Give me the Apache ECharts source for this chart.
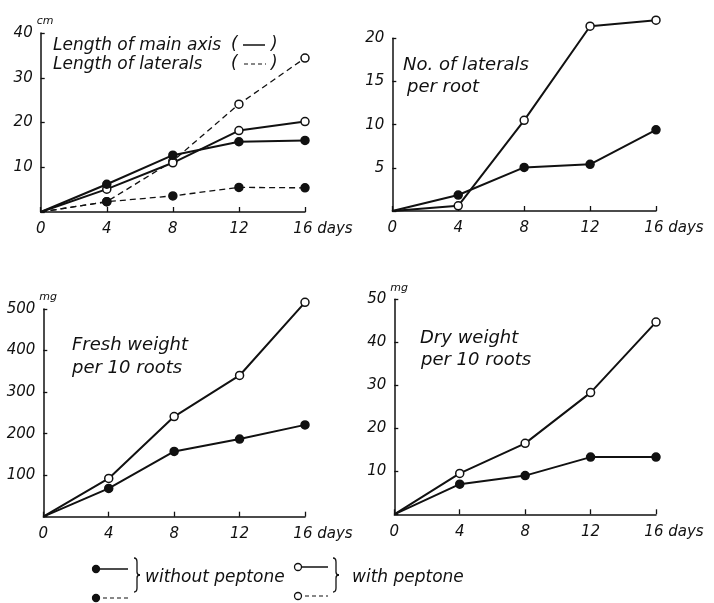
<!DOCTYPE html>
<html>
<head>
<meta charset="utf-8">
<script src="https://cdn.jsdelivr.net/npm/echarts@6/dist/echarts.min.js"></script>
<style>
  html, body { margin: 0; padding: 0; background: #fff; }
  #chart { width: 714px; height: 603px; }
</style>
</head>
<body>
<div id="chart"></div>
<script>
const days = [0, 4, 8, 12, 16]

// panel 1: lengths (cm)
const mainAxisWithout = [0, 6.2, 12.7, 15.7, 16]
const mainAxisWith = [0, 5.1, 11, 18.2, 20.2]
const lateralLenWithout = [0, 2.3, 3.6, 5.5, 5.4]
const lateralLenWith = [0, 2.3, 11.4, 24.1, 34.4]
// panel 2: number of laterals per root
const lateralNoWithout = [0, 1.85, 5.05, 5.4, 9.4]
const lateralNoWith = [0, 0.6, 10.5, 21.4, 22.1]
// panel 3: fresh weight per 10 roots (mg)
const freshWithout = [0, 68, 157, 187, 221]
const freshWith = [0, 92, 241, 340, 516]
// panel 4: dry weight per 10 roots (mg)
const dryWithout = [0, 7, 9, 13.3, 13.3]
const dryWith = [0, 9.5, 16.5, 28.3, 44.7]

const yMax = [40, 20, 500, 50]
const yStep = [10, 5, 100, 10]
const yUnit = ['cm', '', 'mg', 'mg']

const FONT = 'DejaVu Sans'
const INK = '#111'

const chart = echarts.init(document.getElementById('chart'))

const grids = [
  { left: 40.7, top: 33, width: 264.3, height: 179 },
  { left: 392.3, top: 38.3, width: 263.7, height: 172.7 },
  { left: 43.3, top: 309, width: 261.7, height: 207.7 },
  { left: 394.3, top: 299.3, width: 261.7, height: 215 },
]

const labelStyle = {
  color: INK, fontFamily: FONT, fontStyle: 'italic', fontSize: 15,
}

const xAxes = grids.map((g, i) => ({
  type: 'value', gridIndex: i, min: 0, max: 16, interval: 4,
  splitLine: { show: false },
  axisLine: { lineStyle: { color: INK, width: 1.5 } },
  axisTick: { inside: true, length: 5, lineStyle: { color: INK, width: 1.3 } },
  axisLabel: {
    ...labelStyle, margin: 10, showMinLabel: true, showMaxLabel: true,
    formatter: v => v === 16 ? '{p|}16 days' : String(v),
    rich: { p: { width: 36 } },
  },
}))

const yAxes = grids.map((g, i) => ({
  type: 'value', gridIndex: i, min: 0, max: yMax[i], interval: yStep[i],
  name: yUnit[i], nameLocation: 'end', nameGap: 6,
  nameTextStyle: { color: INK, fontFamily: FONT, fontStyle: 'italic', fontSize: 11, align: 'left', padding: [0, 0, 0, -4] },
  splitLine: { show: false },
  axisLine: { lineStyle: { color: INK, width: 1.5 } },
  axisTick: { inside: true, length: 4, lineStyle: { color: INK, width: 1.3 } },
  axisLabel: { ...labelStyle, margin: 8, formatter: v => v === 0 ? '' : String(v) },
}))

function line(idx, values, open, dashed) {
  return {
    type: 'line', xAxisIndex: idx, yAxisIndex: idx, clip: false,
    symbol: 'circle', symbolSize: 8,
    data: days.map((d, i) => i === 0 ? { value: [d, values[i]], symbol: 'none' } : [d, values[i]]),
    lineStyle: { color: INK, width: dashed ? 1.3 : 2, type: dashed ? [6, 4] : 'solid' },
    itemStyle: { color: open ? '#fff' : INK, borderColor: INK, borderWidth: 1.5 },
    z: open ? 2 : 3,
    animation: false,
  }
}

const series = [
  line(0, lateralLenWith, true, true),
  line(0, mainAxisWith, true, false),
  line(0, lateralLenWithout, false, true),
  line(0, mainAxisWithout, false, false),
  line(1, lateralNoWith, true, false),
  line(1, lateralNoWithout, false, false),
  line(2, freshWith, true, false),
  line(2, freshWithout, false, false),
  line(3, dryWith, true, false),
  line(3, dryWithout, false, false),
]

const txt = (x, y, s, size) => ({
  type: 'text', x, y,
  style: { text: s, fill: INK, font: `italic ${size || 18}px "${FONT}"`, textVerticalAlign: 'middle' },
})
const seg = (x1, x2, y, dashed, w) => ({
  type: 'line', shape: { x1, y1: y, x2, y2: y },
  style: { stroke: INK, lineWidth: w || 1.5, lineDash: dashed ? [4, 3] : null },
})
const dot = (x, y, open) => ({
  type: 'circle', shape: { cx: x, cy: y, r: 3.5 },
  style: { fill: open ? '#fff' : INK, stroke: INK, lineWidth: 1.3 }, z: 10,
})
// thin right-hand curly brace built from short curves
const brace = (x, y1, y2) => {
  const m = (y1 + y2) / 2
  const st = { stroke: INK, lineWidth: 1.3, fill: null }
  const q = (x1, yA, x2, yB, cx, cy) => ({ type: 'bezierCurve', shape: { x1, y1: yA, x2, y2: yB, cpx1: cx, cpy1: cy }, style: st })
  const l = (yA, yB) => ({ type: 'line', shape: { x1: x + 3, y1: yA, x2: x + 3, y2: yB }, style: st })
  return {
    type: 'group',
    children: [
      q(x, y1, x + 3, y1 + 4, x + 3, y1),
      l(y1 + 4, m - 3),
      q(x + 3, m - 3, x + 6, m, x + 3, m),
      q(x + 6, m, x + 3, m + 3, x + 3, m),
      l(m + 3, y2 - 4),
      q(x + 3, y2 - 4, x, y2, x + 3, y2),
    ],
  }
}

const graphic = [
  // panel captions
  txt(53, 46, 'Length of main axis', 17),
  txt(53, 65, 'Length of laterals', 17),
  txt(231, 45, '(', 17), seg(243, 265, 45, false), txt(271, 45, ')', 17),
  txt(231, 64, '(', 17), seg(244, 266, 64, true, 1.2), txt(271, 64, ')', 17),
  txt(403, 65, 'No. of laterals'),
  txt(407, 87, 'per root'),
  txt(72, 345, 'Fresh weight'),
  txt(72, 368, 'per 10 roots'),
  txt(420, 338, 'Dry weight'),
  txt(421, 360, 'per 10 roots'),
  // key
  seg(96, 128, 569, false), dot(96, 569, false),
  seg(96, 128, 598, true, 1.2), dot(96, 598, false),
  brace(134, 558, 592),
  txt(145, 578, 'without peptone', 17),
  seg(298, 328, 567, false), dot(298, 567, true),
  seg(298, 328, 596, true, 1.2), dot(298, 596, true),
  brace(333, 558, 592),
  txt(352, 578, 'with peptone', 17),
]

chart.setOption({
  backgroundColor: '#fff',
  animation: false,
  grid: grids,
  xAxis: xAxes,
  yAxis: yAxes,
  series,
  graphic,
})
</script>
</body>
</html>
